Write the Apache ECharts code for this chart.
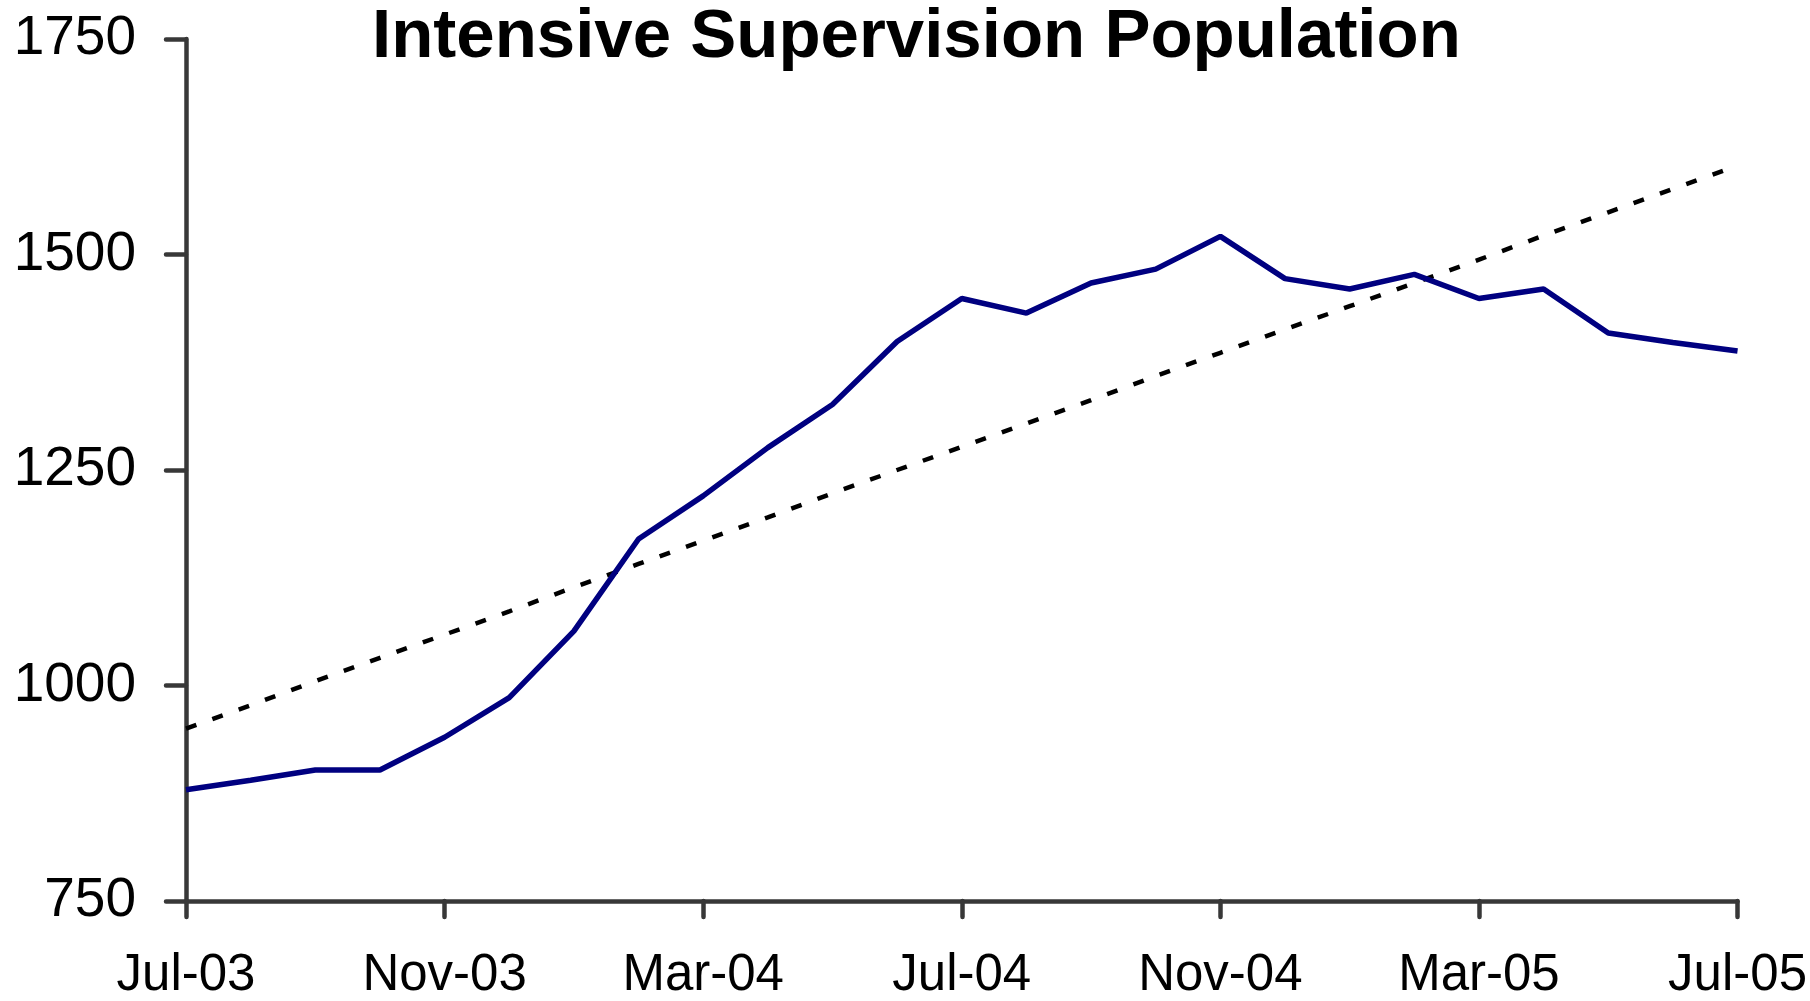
<!DOCTYPE html>
<html>
<head>
<meta charset="utf-8">
<script src="https://cdn.jsdelivr.net/npm/echarts@6/dist/echarts.min.js"></script>
<style>
html,body{margin:0;padding:0;background:#fff;}
#chart{width:1810px;height:1001px;}
</style>
</head>
<body>
<div id="chart"></div>
<script>
var titleText = 'Intensive Supervision Population';
var months = ['Jul-03','Aug-03','Sep-03','Oct-03','Nov-03','Dec-03','Jan-04','Feb-04','Mar-04','Apr-04','May-04','Jun-04',
              'Jul-04','Aug-04','Sep-04','Oct-04','Nov-04','Dec-04','Jan-05','Feb-05','Mar-05','Apr-05','May-05','Jun-05','Jul-05'];
var population = [879, 890, 902, 902, 940, 986, 1063, 1170, 1220, 1276, 1326, 1399,
                  1449, 1432, 1467, 1483, 1521, 1472, 1460, 1477, 1449, 1460, 1409, 1398, 1388];
var trend = [950, 977, 1005, 1032, 1059, 1086, 1114, 1141, 1168, 1195, 1223, 1250,
             1277, 1304, 1331, 1359, 1386, 1413, 1440, 1467, 1494, 1522, 1549, 1576, 1603];
var yMin = 750, yMax = 1750, yStep = 250;

var font = '"Liberation Sans", Arial, sans-serif';
var chart = echarts.init(document.getElementById('chart'), null, {renderer: 'canvas'});
chart.setOption({
  animation: false,
  backgroundColor: '#ffffff',
  title: {
    text: titleText,
    left: 372,
    top: 3,
    padding: 0,
    textStyle: {fontFamily: font, fontWeight: 'bold', fontSize: 69, color: '#000000'}
  },
  grid: {left: 186, right: 72, top: 39, bottom: 98, containLabel: false},
  xAxis: {
    type: 'category',
    data: months,
    boundaryGap: false,
    axisLine: {lineStyle: {color: '#383838', width: 4.5, cap: 'round'}},
    axisTick: {show: true, interval: 3, length: 16, lineStyle: {color: '#383838', width: 4.5, cap: 'round'}},
    axisLabel: {interval: 3, margin: 49, fontFamily: font, fontSize: 51, color: '#000000'},
    splitLine: {show: false}
  },
  yAxis: {
    type: 'value',
    min: yMin, max: yMax, interval: yStep,
    axisLine: {show: true, lineStyle: {color: '#383838', width: 4.5, cap: 'round'}},
    axisTick: {show: true, length: 20, lineStyle: {color: '#383838', width: 4.5, cap: 'round'}},
    axisLabel: {margin: 50, fontFamily: font, fontSize: 55, color: '#000000', padding: [0, 0, 12, 0],
                formatter: function (v) { return String(v); }},
    splitLine: {show: false}
  },
  series: [
    {
      name: 'Population',
      type: 'line',
      data: population,
      symbol: 'none',
      lineStyle: {color: '#000080', width: 5.5},
      z: 3
    },
    {
      name: 'Trend',
      type: 'line',
      data: trend,
      symbol: 'none',
      lineStyle: {color: '#000000', width: 4.5, type: [11, 17], cap: 'butt'},
      z: 2
    }
  ]
});
</script>
</body>
</html>
